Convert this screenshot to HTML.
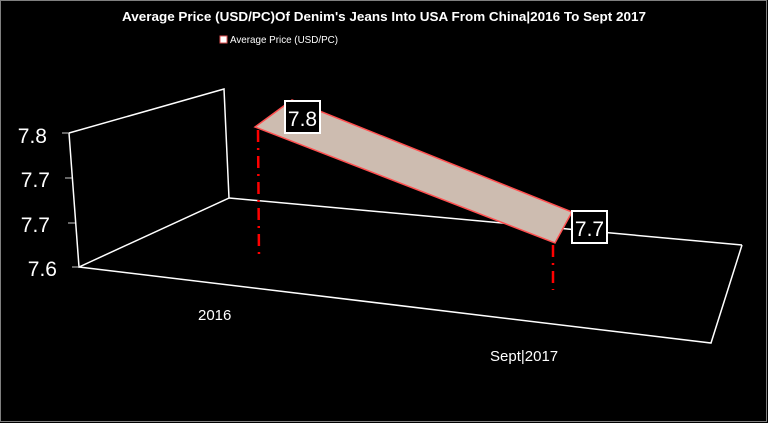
<!DOCTYPE html>
<html><head><style>
html,body{margin:0;padding:0;background:#000;}
svg{display:block;}
</style></head><body>
<svg width="768" height="423" viewBox="0 0 768 423" xmlns="http://www.w3.org/2000/svg" font-family="Liberation Sans, sans-serif">
<rect x="0.5" y="0.5" width="766" height="421" fill="#000" stroke="#7f7f7f" stroke-width="1"/>
<text x="384" y="21" fill="#fff" font-size="13" font-weight="bold" text-anchor="middle" textLength="524" lengthAdjust="spacingAndGlyphs">Average Price (USD/PC)Of Denim's Jeans Into USA From China|2016 To Sept 2017</text>
<rect x="220" y="36" width="7" height="7" fill="#fff" stroke="#e05050" stroke-width="1"/>
<text x="230" y="43" fill="#fff" font-size="10.5" textLength="108" lengthAdjust="spacingAndGlyphs">Average Price (USD/PC)</text>
<g stroke="#fff" fill="none" stroke-width="1.5">
<polyline points="69,133 224,89 229,198 79,267 69,133"/>
<line x1="229" y1="198" x2="742" y2="245"/>
<polyline points="742,245 711,343 79,267"/>
</g>
<g stroke="#ccc" stroke-width="1">
<line x1="62" y1="133" x2="69" y2="133"/><line x1="65" y1="178" x2="72" y2="178"/>
<line x1="68" y1="223" x2="75" y2="223"/><line x1="72" y1="267" x2="79" y2="267"/>
</g>
<g fill="#fff" font-size="21" text-anchor="end">
<text x="47" y="143">7.8</text><text x="50" y="187">7.7</text>
<text x="50" y="232">7.7</text><text x="57" y="276">7.6</text>
</g>
<g stroke="#f00" stroke-width="2.5" stroke-dasharray="12,6,2,6">
<line x1="258" y1="130" x2="259" y2="258"/>
<line x1="553" y1="245" x2="553" y2="290"/>
</g>
<polygon points="255,127 292,100 572,212 555,243" fill="#cdbcb0" stroke="#ff5050" stroke-width="1.5"/>
<rect x="285" y="101" width="35" height="32" fill="#000" stroke="#fff" stroke-width="2"/>
<text x="302.5" y="126" fill="#fff" font-size="21" text-anchor="middle">7.8</text>
<rect x="572" y="211" width="35" height="32" fill="#000" stroke="#fff" stroke-width="2"/>
<text x="589.5" y="236" fill="#fff" font-size="21" text-anchor="middle">7.7</text>
<text x="198" y="320" fill="#fff" font-size="15">2016</text>
<text x="490" y="361" fill="#fff" font-size="15">Sept|2017</text>
</svg>
</body></html>
